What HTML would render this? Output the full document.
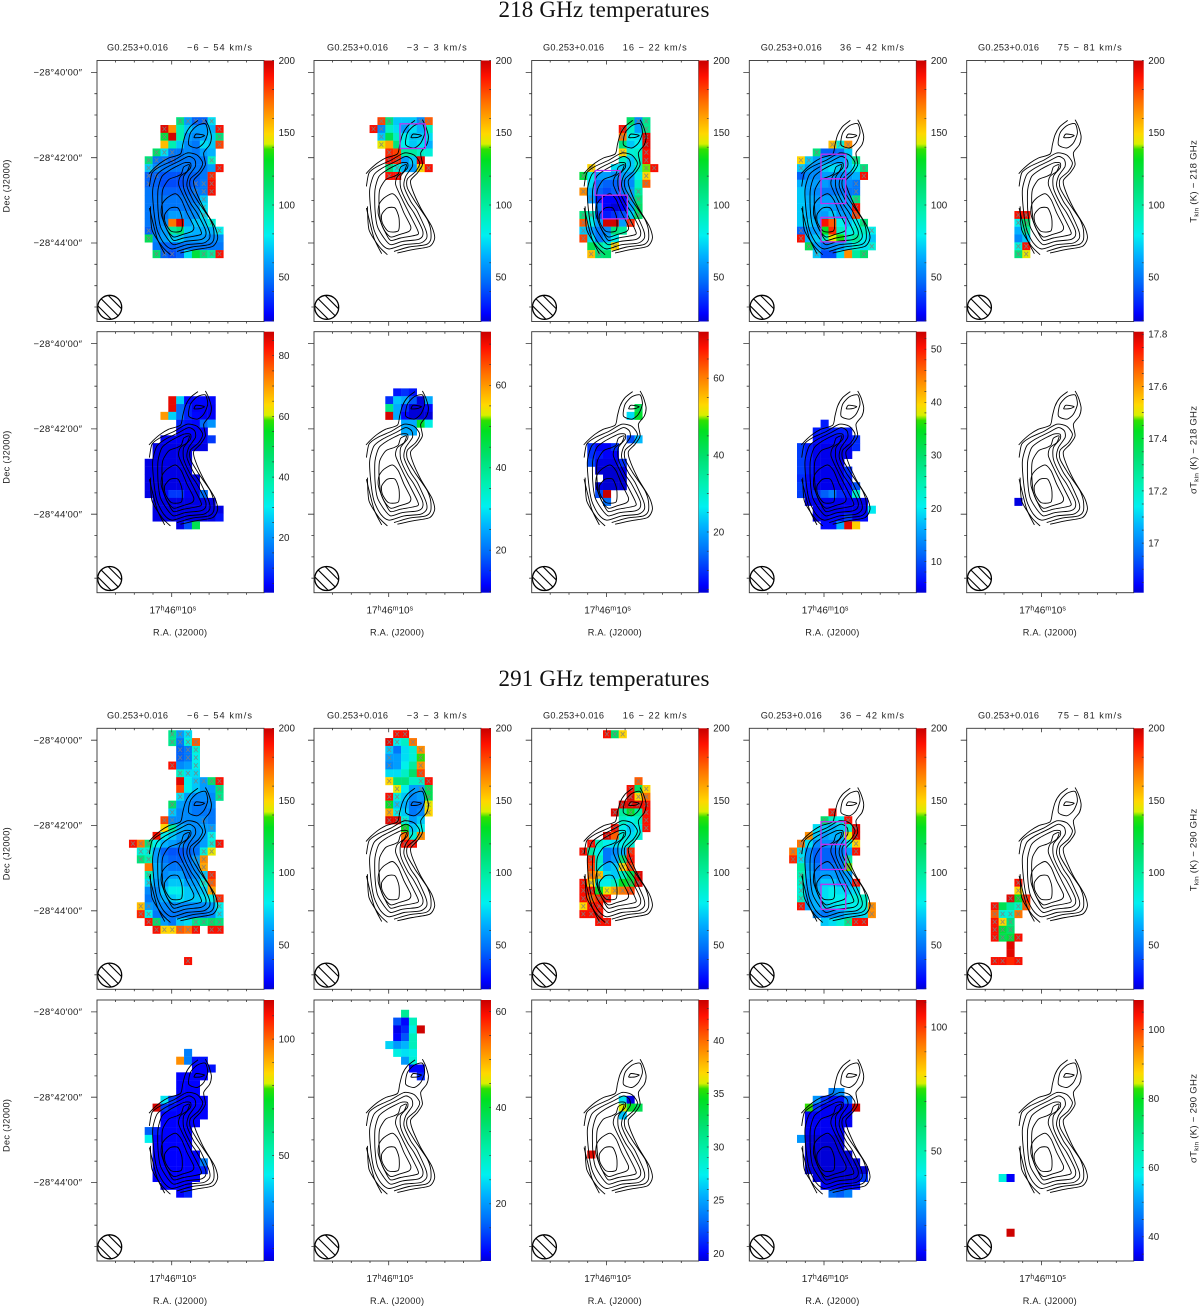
<!DOCTYPE html>
<html lang="en">
<head>
<meta charset="utf-8">
<title>218 GHz and 291 GHz temperatures</title>
<style>
html,body{margin:0;padding:0;background:#fff;}
svg{display:block;font-family:"Liberation Sans",sans-serif;fill:#222;}
.h{font-family:"Liberation Serif",serif;font-size:23px;fill:#111;}
</style>
</head>
<body>
<svg id="chart" width="1200" height="1307" viewBox="0 0 1200 1307" xmlns="http://www.w3.org/2000/svg">
<text class="h" x="604" y="17" text-anchor="middle" textLength="211">218 GHz temperatures</text>
<text class="h" x="604" y="686" text-anchor="middle" textLength="211">291 GHz temperatures</text>
</svg>
<script>
// Categories and labels
const sourceName = "G0.253+0.016";
const velocityLabels = ["\u22126 \u2212 54 km/s", "\u22123 \u2212 3 km/s", "16 \u2212 22 km/s", "36 \u2212 42 km/s", "75 \u2212 81 km/s"];
const decLabels = ["\u221228\u00b040\u203200\u2033", "\u221228\u00b042\u203200\u2033", "\u221228\u00b044\u203200\u2033"];
const decLabelMinutes = [40, 42, 44];

// Colour bar ranges, rows top to bottom, columns left to right
const rangeMin = [[19.4,19.4,19.4,19.4,19.4],[1.9,9.7,4.2,4.1,16.81],[19.4,19.4,19.4,19.4,19.4],[4.6,8.1,19.3,5.6,33]];
const rangeMax = [[200,200,200,200,200],[87.9,73,72.1,53.3,17.81],[200,200,200,200,200],[116.8,62.4,43.8,110.9,108.5]];
const majorTicks = [
 [[50,100,150,200],[50,100,150,200],[50,100,150,200],[50,100,150,200],[50,100,150,200]],
 [[20,40,60,80],[20,40,60],[20,40,60],[10,20,30,40,50],["17","17.2","17.4","17.6","17.8"]],
 [[50,100,150,200],[50,100,150,200],[50,100,150,200],[50,100,150,200],[50,100,150,200]],
 [[50,100],[20,40,60],[20,25,30,35,40],[50,100],[40,60,80,100]]
];
const minorSteps = [[20,20,20,20,20],[5,5,5,2,0.05],[20,20,20,20,20],[10,5,1,10,5]];

// Map cells, one row per entry: [map row, first map column, values...]
// A negative value marks a pixel flagged with an X; its magnitude is the temperature in K.
const t218a = [
[7,10,-110,-60,-45,-45,-75],[8,8,-195,165,95,70,60,60,65,-190],[9,8,-125,198,95,60,55,60,70,-110],[10,8,155,95,70,55,50,75,70,-180],
[11,7,-115,-75,-50,50,55,50,60,65],[12,6,-110,-50,-50,-45,50,50,50,50,-90],[13,6,-70,-55,50,50,50,50,50,50,60,-190],
[14,6,-45,-45,42,42,42,45,45,50,-185],[15,6,-45,45,40,40,40,42,-45,-50,-190],[16,6,50,48,45,45,45,45,-50,-50,-190],
[17,6,50,50,50,50,50,50,50,-70],[18,6,50,50,50,50,50,50,55,-75],[19,6,50,50,50,60,60,55,55,-75],[20,6,50,50,55,170,195,60,70,70,-85],
[21,6,-45,50,60,100,110,70,65,65,65,-80],[22,6,-120,55,60,70,70,60,60,60,55,55],[23,7,50,45,45,48,50,50,50,50,50],[24,7,-115,-45,-40,45,75,125,-110,-100,-190]
];
const s218a = [
[8,9,85,27,5,5,5,5],[9,9,85,15,8,4,4,4],[10,8,70,27,15,8,5,4,4],[11,10,8,6,5,15,20],[12,10,4,4,4,4],[13,8,4,4,4,4,4,4,10],
[14,7,3,3,3,3,3,3,3],[15,7,3,3,3,3,3],[16,6,3,3,3,3,3,3],[17,6,3,3,3,3,3,3],[18,6,3,3,3,3,3,3,3],[19,6,3,3,3,3,3,3,3],
[20,6,3,3,5,10,10,4,3,15],[21,7,3,3,3,3,3,3,3,3],[22,7,3,3,3,3,3,3,3,3,3],[23,7,3,3,3,3,3,3,3,3,6],[24,10,3,12,50]
];
const t218b = [
[7,8,-180,-110,70,70,70,-55,-175],[8,7,-190,-55,90,75,60,75,65,90],[9,8,-70,120,90,80,70,70,75],[10,8,-145,160,110,80,70,75,65],
[11,9,-185,180,100,100,90,85],[12,9,-190,-185,60,70,195],[13,9,-110,-85,65,60,-150,-190],[14,9,-190,-190]
];
const s218b = [[7,10,13,15,13],[8,9,15,27,25,18,10,25],[9,9,40,25,15,10,10,12],[10,9,72,25,12,10,10,10],[11,11,25,25,48,32],[12,11,25,25]];
const t218c = [
[7,12,115,-55,-105],[8,11,-190,90,60,-105],[9,11,-170,80,75,-195],[10,11,110,70,80,-195],[11,11,-150,85,90,-190],[12,11,90,70,90,-190],
[13,7,-150,null,null,75,70,70,90,-140,-190],[14,6,-125,80,60,60,55,60,60,80,-150],[15,7,75,50,45,45,50,55,90,-175],
[16,6,-165,65,45,40,45,50,-60,-100],[17,7,-60,30,25,25,25,-60,-110],[18,8,50,25,20,25,60,-115],[19,6,-110,-90,40,30,35,40,70,-115],
[20,6,-175,80,60,198,198,60,-185],[21,6,-70,60,50,55,110,100],[22,6,-180,75,50,60,80],[23,7,120,100,90,-150],[24,7,-155,-110,115]
];
const s218c = [
[9,13,42],[10,12,25,45],[13,12,12,22],[14,7,10,6,6,10],[15,7,10,8,6,6],[16,7,12,5,5,5,10],[17,8,4,4,4,5],[18,9,3,3,3],[19,8,5,3,3,3],[20,8,12,72],[21,9,15]
];
const t218d = [
[10,10,-155,-85,-165],[11,8,-110,45,45,50,70],[12,6,-150,-70,60,60,60,60,70,-105],[13,6,-70,60,55,70,75,70,70,80,-110],
[14,6,45,55,55,60,60,55,60,65,-190],[15,6,65,60,60,60,55,55,55,-50],[16,6,70,60,55,50,50,50,50,-50],[17,6,70,65,60,60,60,60,60,-110],
[18,6,70,65,60,65,60,55,60,-190],[19,6,70,65,60,60,70,60,60,-180],[20,6,70,70,65,190,175,80,70,80,-110],
[21,6,-45,60,60,130,185,90,80,85,90,-80],[22,6,-190,65,70,90,145,135,90,100,80,70],[23,7,-120,60,50,55,60,70,85,75,-85],[24,8,-70,40,40,75,165,100,-115]
];
const s218d = [
[11,9,7],[12,8,7,7,7,7,7],[13,8,6,6,6,6,6,8],[14,6,9,7,5,5,5,5,5,8],[15,6,9,7,5,5,5,5,5],[16,6,9,7,5,5,5,5],[17,6,9,7,5,5,5,5,8],
[18,6,8,6,5,5,5,5,7],[19,6,9,6,5,5,5,5,6,10],[20,6,9,6,8,11,13,8,7,23],[21,7,5,5,5,5,5,5,5,5],[22,8,5,5,5,5,5,5,5,20],[23,8,5,5,6,6,9,5,6],[24,9,6,6,16,52,40]
];
const t218e = [[19,6,-190,-190],[20,6,-80,-115],[21,6,65,-100],[22,6,55,70],[23,6,-85,-190],[24,6,-110,-145]];
const s218e = [[21,6,16.82]];
const t290a = [
[0,9,-105,-60,-75],[1,9,-105,-50,-85,-175],[2,10,-45,-50,-85],[3,10,-45,-50,-80],[4,9,-190,55,60,-80],[5,10,-90,-75,-75],
[6,10,195,80,-70,-60,-115,-190],[7,10,180,80,70,60,60,-110],[8,10,-75,60,55,55,55,-105],[9,9,-115,60,55,50,50,55],[10,9,-70,55,55,50,50,50],
[11,8,-180,-55,55,55,55,-55,50],[12,8,150,100,65,60,55,60,-60],[13,7,190,80,70,60,55,55,60,-80],
[14,4,-190,-170,-110,80,65,60,55,50,50,60,-85,-190],[15,5,-85,-85,60,45,42,42,45,48,-85,-145],[16,5,-110,-95,60,50,45,45,48,-60,-165],
[17,6,170,65,55,50,50,50,55,-160],[18,6,-95,65,55,60,60,50,55,-70,-185],[19,6,-75,60,60,70,70,60,60,-85,-175],
[20,6,55,55,70,80,80,70,65,70,-160],[21,6,50,55,65,70,75,70,70,75,80,-185],[22,5,-155,-60,55,55,55,55,55,55,55,60,-80],
[23,5,-185,-80,50,50,50,50,50,50,50,55,-75],[24,6,-190,-115,60,50,70,75,-105,-110,-115,-110],[25,7,-190,-150,-150,-175,-170,-190,null,-190,-190],[29,11,-190]
];
const s290a = [
[6,11,25],[7,10,95,25,10,10],[8,12,8,8,10],[9,10,8,8,8,8],[10,10,8,8,8],[11,10,8,8,8],[12,8,40,15,8,8,8,8],[13,7,115,15,10,8,8,8,8],
[14,8,8,8,8,8,8,8],[15,8,8,8,8,8,8],[16,6,20,12,8,8,8,8],[17,6,42,8,8,8,8,8],[18,7,8,8,8,8,8],[19,7,8,8,8,8,8,8],[20,7,8,8,8,8,8,8,25],
[21,7,8,8,8,8,8,8,12],[22,7,8,8,8,8,8,8],[23,8,8,8,8,8],[24,10,8,12]
];
const t290b = [
[0,10,-190,-190],[1,9,-195,-80,90,-170],[2,9,-70,50,75,85,-165],[3,9,-60,60,75,85,-138],[4,9,-55,60,80,100,-165],[5,9,75,75,90,115,-180],
[6,9,-150,110,110,90,-90,-190],[7,10,-145,80,60,-60,-120],[8,9,-190,-85,70,55,60,-120],[9,9,-130,-70,65,50,50,-145],[10,9,-160,-80,70,50,55,-150],
[11,9,-195,-195,-85,60,70],[12,11,-130,70,80],[13,11,170,85,-165],[14,11,-190,-190]
];
const s290b = [[1,11,33],[2,10,15,10,30],[3,10,9,12,27,62],[4,10,10,15,30],[5,9,24,20,22,30],[6,10,27,25,27],[7,11,20,28],[8,12,10,10],[9,13,12]];
const t290c = [
[0,9,-190,-115,-150],[6,13,-175],[7,12,-190,115,-150],[8,12,-195,-150,-170],[9,11,-195,-195,-195,-190],[10,10,-195,100,-130,100,-190],
[11,11,90,80,90,-190],[12,10,-190,80,70,80,-190],[13,9,-195,175,85,75,85],[14,7,-190,90,80,75,80,85],[15,6,-190,100,80,50,55,65,-185],
[16,7,-185,90,50,60,110,-190],[17,7,-180,85,65,70,-150,-180],[18,7,-170,-155,75,70,90,120,-195],[19,6,-190,-150,80,80,90,130,-125,-195],
[20,6,-190,-190,-130,-145,-160,-170,-180],[21,6,-190,-175,-185,-190],[22,6,-150,-190,-190],[23,6,-190,-190,-190],[24,8,-190,-190]
];
const s290c = [[12,11,27,19.5],[13,11,36,34,33],[14,11,26],[19,7,43]];
const t290d = [
[10,10,-190],[11,9,-115,90,80,-190],[12,8,75,70,65,70,90,-195],[13,7,165,70,60,65,65,145,-195],[14,6,-170,75,55,55,55,60,80,-150],
[15,5,-170,-75,55,45,45,45,50,60,-190],[16,5,-185,-75,55,45,45,45,50,-100],[17,6,100,60,50,50,50,50,-140],[18,6,-95,65,55,60,60,55,60],
[19,6,-90,60,60,70,70,60,60,-190],[20,6,-85,60,65,75,80,75,70,75],[21,6,-90,60,65,75,80,80,80,85,90],[22,6,-190,60,65,70,75,80,80,80,85,-165],
[23,8,55,50,55,60,70,70,75,-165],[24,9,70,75,85,-105,-190,-190]
];
const s290d = [
[11,10,25,27],[12,8,28,15,10,10,22],[13,7,75,15,8,8,8,8,110],[14,7,8,8,8,8,8,8],[15,7,8,8,8,8,8,8],[16,7,8,8,8,8,8],[17,6,28,6,6,6,6,6],
[18,7,6,6,6,6,6],[19,7,6,6,6,6,6,6],[20,7,6,6,6,6,6,6,6],[21,7,6,6,6,6,6,6,6,6],[22,8,6,6,6,6,6,6,15],[23,9,8,8,8,8,10],[24,10,22,20,25]
];
const t290e = [
[19,6,-190],[20,6,-150],[21,5,-195,-130,-185],[22,3,-190,120,100,-90,-175],[23,3,-175,-85,-85,-170],[24,3,-190,-150,-110],[25,3,-190,-125,-115],
[26,3,-190,-120,-125,-190],[27,5,195],[28,5,195],[29,3,-190,-190,185,-190]
];
const s290e = [[22,4,60,35],[29,5,108]];
const panelCells = [[t218a,t218b,t218c,t218d,t218e],[s218a,s218b,s218c,s218d,s218e],[t290a,t290b,t290c,t290d,t290e],[s290a,s290b,s290c,s290d,s290e]];

// Analysis boxes in map cell units: [panel row, panel column, left col, top row, right col, bottom row]
const regionBoxes = [
[0,1,10.87,7.85,14.09,11],[0,2,8,13.82,11.17,16.97],[0,2,8.92,16.97,12.1,20],[0,3,9.05,11.73,12.19,14.88],[0,3,9.05,14.88,12.19,18.04],[0,3,9.05,19.8,12.19,22.94],
[2,3,9.05,11.7,12.19,14.6],[2,3,9.05,14.6,12.19,17.8],[2,3,9.05,19.7,12.19,22.9]
];

// Contours: offsets from the reference position, in units of 0.47 arcsec, +x right, +y down. Shared by every panel.
const contourOpen = [
[[-68,48],[-54,33],[-34,16],[-9,1],[26,-11],[33,-39],[41,-69],[56,-94],[79,-112]],
[[101,-114],[111,-94],[119,-64],[114,-39],[96,-14],[101,21],[86,46],[66,68],[71,96],[96,151],[129,206],[138,241],[123,266],[71,276],[26,286]],
[[-67,151],[-44,241],[-21,288]],
[[-67,86],[-59,46],[-34,26],[6,8],[46,-14],[76,-8],[93,16],[81,41],[56,64],[56,91],[79,131],[96,156],[116,186],[126,216],[126,246],[111,261],[61,268],[16,281]],
[[-4,291],[-29,266],[-59,216],[-64,146]]
];
const contourClosed = [
[[51,-39],[56,-74],[76,-96],[101,-102],[108,-74],[96,-44],[76,-29]],
[[68,-64],[74,-71],[98,-67],[86,-61],[68,-60]],
[[-54,156],[-57,96],[-44,51],[-19,31],[21,11],[51,-4],[69,6],[71,26],[51,56],[46,86],[66,131],[86,161],[111,216],[114,241],[96,256],[46,261],[1,274],[-24,256],[-44,216]],
[[-41,156],[-41,96],[-29,56],[-4,36],[36,16],[56,16],[56,31],[36,56],[36,91],[56,136],[76,166],[101,216],[101,236],[86,246],[41,251],[6,261],[-14,241],[-34,206]],
[[-29,136],[-27,96],[-9,66],[16,56],[29,48],[36,28],[53,21],[46,41],[26,56],[21,81],[41,126],[61,166],[86,216],[86,231],[36,241],[6,248],[-9,226],[-24,191]],
[[-31,171],[-29,141],[-14,121],[11,108],[29,126],[46,166],[66,206],[61,221],[31,231],[6,238],[-14,216]],
[[-19,196],[-1,221],[29,219],[31,181],[19,151],[-4,151],[-21,171]]
];

const colorStops = [[0,0,0,210],[.03,0,0,255],[.15,0,105,250],[.25,0,175,255],[.33,0,240,240],[.42,0,240,176],[.52,0,224,112],[.62,0,224,32],[.66,48,224,0],[.68,216,240,0],[.72,255,216,0],[.84,255,112,0],[.94,255,16,0],[1,200,0,0]];

// Layout
const panelLefts = [97, 314, 531.7, 749.3, 966.7];
const panelTops = [60.5, 331.7, 728.3, 1000];
const sourceTitleX = [107, 327, 543, 760.7, 978];
const velocityTitleX = [187, 406.7, 622.7, 840, 1057.7];
const velocityTitleW = [65, 60, 64, 64, 64];
const rightAxisTitleY = [181.5, 450, 850, 1118.5];
const rightAxisTitleW = [82.5, 88, 82.5, 89];
const plotW = 167, plotH = 261, barW = 10;
const cellW = 7.87, cellH = 7.82;
const NS = "http://www.w3.org/2000/svg";
const svg = document.getElementById("chart");

function make(tag, attrs, parent, text) {
  const el = document.createElementNS(NS, tag);
  for (const k in attrs) el.setAttribute(k, attrs[k]);
  if (text !== undefined) el.textContent = text;
  parent.appendChild(el);
  return el;
}
function colorFor(f) {
  f = Math.max(0, Math.min(1, f));
  for (let i = 1; i < colorStops.length; i++) {
    const a = colorStops[i - 1], b = colorStops[i];
    if (f <= b[0]) {
      const t = (f - a[0]) / (b[0] - a[0]);
      return "rgb(" + [1, 2, 3].map(k => Math.round(a[k] + (b[k] - a[k]) * t)).join(",") + ")";
    }
  }
  return "rgb(200,0,0)";
}
// Axis functions
const xCell = (left, c) => left + 47.7 + (c - 6) * cellW;
const yCell = (top, r) => top + (r + 0.25) * cellH;
const xRef = left => left + 74.7;
const yRef = top => top + 97.2;
const xSky = (left, u) => xRef(left) + u / 3;
const ySky = (top, u) => yRef(top) + u / 3;
const yDecMinute = (top, m) => yRef(top) + (m - 42) * 42.67;
const yBar = (top, min, max, v) => top + plotH * (1 - (v - min) / (max - min));

// Smooth Catmull-Rom path through the contour vertices
function smoothPath(pts, closed) {
  const n = pts.length;
  const at = i => closed ? pts[(i + n) % n] : pts[Math.max(0, Math.min(n - 1, i))];
  let d = "M" + pts[0][0].toFixed(1) + " " + pts[0][1].toFixed(1);
  const last = closed ? n : n - 1;
  for (let i = 0; i < last; i++) {
    const p0 = at(i - 1), p1 = at(i), p2 = at(i + 1), p3 = at(i + 2);
    const c1x = p1[0] + (p2[0] - p0[0]) / 8, c1y = p1[1] + (p2[1] - p0[1]) / 8;
    const c2x = p2[0] - (p3[0] - p1[0]) / 8, c2y = p2[1] - (p3[1] - p1[1]) / 8;
    d += "C" + c1x.toFixed(1) + " " + c1y.toFixed(1) + " " + c2x.toFixed(1) + " " + c2y.toFixed(1) + " " + p2[0].toFixed(1) + " " + p2[1].toFixed(1);
  }
  return d + (closed ? "Z" : "");
}

// Shared colour bar gradient
const defs = make("defs", {}, svg);
const grad = make("linearGradient", {id: "rainbow", x1: 0, y1: 1, x2: 0, y2: 0}, defs);
colorStops.forEach(s => make("stop", {offset: s[0], "stop-color": "rgb(" + s[1] + "," + s[2] + "," + s[3] + ")"}, grad));

panelTops.forEach((top, row) => {
  panelLefts.forEach((left, col) => {
    const min = rangeMin[row][col], max = rangeMax[row][col];
    const g = make("g", {}, svg);
    
    

    // Heatmap cells
    panelCells[row][col].forEach(entry => {
      const r = entry[0], c0 = entry[1];
      entry.slice(2).forEach((v, i) => {
        if (v === null) return;
        const c = c0 + i, val = Math.abs(v);
        const rect = make("rect", {x: xCell(left, c), y: yCell(top, r), width: cellW + .2, height: cellH + .2, fill: colorFor((val - min) / (max - min))}, g);
        
        
        if (v < 0) {
          const cx = xCell(left, c) + cellW / 2, cy = yCell(top, r) + cellH / 2, hx = 1.9, hy = 2.2;
          const mark = make("path", {d: `M${cx - hx} ${cy - hy}L${cx + hx} ${cy + hy}M${cx + hx} ${cy - hy}L${cx - hx} ${cy + hy}`, stroke: "#808080", "stroke-opacity": .8, "stroke-width": .9, fill: "none"}, g);
          
          
        }
      });
    });

    // Contours
    contourOpen.concat(contourClosed).forEach((line, i) => {
      const closed = i >= contourOpen.length;
      const pts = line.map(p => [xSky(left, p[0]), ySky(top, p[1])]);
      const path = make("path", {d: smoothPath(pts, closed), fill: "none", stroke: "#000", "stroke-width": .9, "stroke-linejoin": "round"}, g);
      
      
    });

    // Region boxes
    regionBoxes.filter(b => b[0] === row && b[1] === col).forEach(b => {
      const x = xCell(left, b[2]), y = yCell(top, b[3]);
      const box = make("rect", {x: x, y: y, width: xCell(left, b[4]) - x, height: yCell(top, b[5]) - y, fill: "none", stroke: "#c030f0", "stroke-width": 1.3}, g);
      
      
    });

    // Beam
    const beam = make("g", {}, g);
    
    
    const clipId = "beam" + row + "-" + col, bx = left + 12.7, by = top + 246.8, br = 12;
    make("circle", {cx: bx, cy: by, r: br}, make("clipPath", {id: clipId}, defs));
    const hatch = make("g", {"clip-path": "url(#" + clipId + ")"}, beam);
    for (let k = -3; k <= 3; k++) {
      const off = k * 5.2;
      make("line", {x1: bx - 16 + off, y1: by - 16 - off, x2: bx + 16 + off, y2: by + 16 - off, stroke: "#000", "stroke-width": 1.1}, hatch);
    }
    make("circle", {cx: bx, cy: by, r: br, fill: "none", stroke: "#000", "stroke-width": 1.3}, beam);

    // Plot frame
    const frame = make("rect", {x: left, y: top, width: plotW, height: plotH, fill: "none", stroke: "#333", "stroke-width": .9}, g);
    
    

    // Ticks
    let tp = "";
    for (let i = 0; i <= 11; i++) {
      const y = yRef(top) + (i - 4) * 21.33;
      const major = (i === 0 || i === 4 || i === 8);
      tp += `M${left} ${y.toFixed(1)}h${major ? -6 : -2.6}`;
    }
    for (let i = -3; i <= 4; i++) {
      const x = xRef(left) + i * 18.72;
      const major = i === 0;
      tp += `M${x.toFixed(1)} ${top}v${major ? 4 : 2}`;
      tp += `M${x.toFixed(1)} ${top + plotH}v${major ? 4.3 : 2}`;
    }
    const ticks = make("path", {d: tp, stroke: "#333", "stroke-width": .8, fill: "none"}, g);
    
    

    // Colour bar
    const bar = make("rect", {x: left + plotW, y: top, width: barW, height: plotH, fill: "url(#rainbow)"}, g);
    
    
    const step = minorSteps[row][col];
    let cp = "";
    for (let v = Math.ceil(min / step) * step; v <= max + 1e-9; v += step) {
      const y = yBar(top, min, max, v);
      cp += `M${left + plotW + barW} ${y.toFixed(1)}h-1.8`;
    }
    const barTicks = make("path", {d: cp, stroke: "#333", "stroke-width": .7, fill: "none"}, g);
    
    
    majorTicks[row][col].forEach(v => {
      const y = yBar(top, min, max, Number(v));
      const lab = make("text", {x: left + plotW + barW + 4.6, y: y + 3.4, "font-size": 9.8}, g, String(v));
      
      
    });

    // Titles on the map rows
    if (row === 0 || row === 2) {
      const tA = make("text", {x: sourceTitleX[col], y: top - 10, "font-size": 9.2, textLength: 61}, g, sourceName);
      
      
      const tB = make("text", {x: velocityTitleX[col], y: top - 10, "font-size": 9.2, textLength: velocityTitleW[col]}, g, velocityLabels[col]);
      
      
    }

    // Dec axis labels, left column only
    if (col === 0) {
      decLabelMinutes.forEach((m, i) => {
        const lab = make("text", {x: 33.5, y: yDecMinute(top, m) + 3.2, "font-size": 9.6, textLength: 48.5}, g, decLabels[i]);
        
        
      });
      const dt = make("text", {transform: `translate(9.5 ${top + 125.5}) rotate(-90)`, "text-anchor": "middle", "font-size": 9.2, textLength: 53}, g, "Dec (J2000)");
      
      
    }

    // RA labels on the sigma rows
    if (row === 1 || row === 3) {
      const ra = make("text", {x: left + 52.5, y: top + plotH + 21, "font-size": 10}, g);
      
      
      [["17",0,10],["h",-3,7],["46",3,10],["m",-3,7],["10",3,10],["s",-3,7]].forEach(p => {
        make("tspan", {dy: p[1], "font-size": p[2]}, ra, p[0]);
      });
      const rt = make("text", {x: left + 83, y: top + plotH + 43, "text-anchor": "middle", "font-size": 9.2, textLength: 54}, g, "R.A. (J2000)");
      
      
    }
  });

  // Right-hand quantity label for each row
  const freq = (row < 2 ? "218" : "290") + " GHz";
  const sigma = row % 2 === 1;
  const q = make("text", {transform: `translate(1196.5 ${rightAxisTitleY[row]}) rotate(-90)`, "text-anchor": "middle", "font-size": 9.6, textLength: rightAxisTitleW[row]}, svg);
  
  
  make("tspan", {}, q, (sigma ? "\u03c3" : "") + "T");
  make("tspan", {dy: 2, "font-size": 6.5}, q, "kin");
  make("tspan", {dy: -2}, q, " (K)  \u2212  " + freq);
});
</script>
</body>
</html>
